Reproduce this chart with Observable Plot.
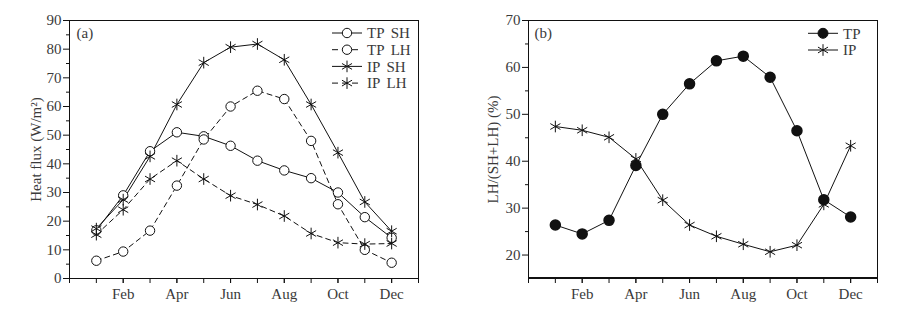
<!DOCTYPE html>
<html><head><meta charset="utf-8">
<script src="https://cdn.jsdelivr.net/npm/d3@7"></script>
<script src="https://cdn.jsdelivr.net/npm/@observablehq/plot@0.6"></script>
<style>
body{margin:0;background:#fff}
#wrap{display:flex;width:916px;height:310px;background:#fff}
</style>
</head><body><div id="wrap"></div><script>
// ---- data ----
const months = [1,2,3,4,5,6,7,8,9,10,11,12];
const tpSH = [16.8, 29.0, 44.4, 51.0, 49.6, 46.3, 41.1, 37.7, 35.0, 30.0, 21.4, 14.2];
const tpLH = [6.2, 9.4, 16.7, 32.4, 48.5, 60.0, 65.5, 62.6, 48.0, 25.9, 10.0, 5.5];
const ipSH = [17.4, 27.5, 42.6, 60.7, 75.3, 80.7, 81.8, 76.3, 60.7, 43.9, 26.7, 16.5];
const ipLH = [15.3, 24.0, 34.7, 41.1, 34.7, 28.9, 25.8, 21.8, 15.7, 12.5, 12.0, 12.2];
const tpRatio = [26.4, 24.5, 27.4, 39.1, 50.0, 56.5, 61.4, 62.4, 57.9, 46.5, 31.8, 28.1];
const ipRatio = [47.4, 46.6, 45.1, 40.5, 31.7, 26.4, 24.0, 22.3, 20.7, 22.1, 30.8, 43.3];
const monthTicks = [2,4,6,8,10,12];
const monthLabels = ["Feb","Apr","Jun","Aug","Oct","Dec"];
const xDomain = [0, 13];
const yDomainA = [0, 90];
const yTicksA = [0,10,20,30,40,50,60,70,80,90];
const yDomainB = [15, 70];
const yTicksB = [20,30,40,50,60,70];
const legendA = ["TP SH","TP LH","IP SH","IP LH"];
const legendB = ["TP","IP"];

const rows = months.map((m,i)=>({month:m, tpSH:tpSH[i], tpLH:tpLH[i], ipSH:ipSH[i], ipLH:ipLH[i], tpR:tpRatio[i], ipR:ipRatio[i]}));

const font = "'Liberation Serif','Times New Roman',serif";
const ink = "#111";
const txt = "#3a3a3a";
const style = {fontFamily: font, fontSize: "15px", background: "white", overflow: "visible", color: ink};

function xAxes() {
  return [
    Plot.axisX({ticks: d3.range(0, 14), tickSize: 5, text: null, label: null, stroke: ink}),
    Plot.axisX({ticks: monthTicks, tickSize: 5, tickPadding: 5, tickFormat: d => monthLabels[monthTicks.indexOf(d)], label: null, stroke: ink, fill: txt, fontSize: 15})
  ];
}

const left = Plot.plot({
  width: 458, height: 310,
  marginLeft: 69, marginRight: 40, marginTop: 20, marginBottom: 32,
  style,
  x: {domain: xDomain},
  y: {domain: yDomainA},
  marks: [
    ...xAxes(),
    Plot.axisY({ticks: d3.range(5, 90, 10), tickSize: 3, text: null, label: null, stroke: ink}),
    Plot.axisY({ticks: yTicksA, tickSize: 6, tickPadding: 2, stroke: ink, fill: txt, fontSize: 15,
      label: "Heat flux (W/m²)", labelAnchor: "center", labelArrow: "none", labelOffset: 39}),
    Plot.line(rows, {x: "month", y: "tpSH", stroke: ink, strokeWidth: 1}),
    Plot.line(rows, {x: "month", y: "tpLH", stroke: ink, strokeWidth: 1, strokeDasharray: "5,4"}),
    Plot.line(rows, {x: "month", y: "ipSH", stroke: ink, strokeWidth: 1}),
    Plot.line(rows, {x: "month", y: "ipLH", stroke: ink, strokeWidth: 1, strokeDasharray: "5,4"}),
    Plot.dot(rows, {x: "month", y: "tpSH", r: 4.7, fill: "white", stroke: ink, strokeWidth: 1}),
    Plot.dot(rows, {x: "month", y: "tpLH", r: 4.7, fill: "white", stroke: ink, strokeWidth: 1}),
    Plot.dot(rows, {x: "month", y: "ipSH", r: 5.5, symbol: "asterisk", stroke: ink, strokeWidth: 1}),
    Plot.dot(rows, {x: "month", y: "ipLH", r: 5.5, symbol: "asterisk", stroke: ink, strokeWidth: 1}),
    Plot.frame({stroke: ink}),
    Plot.text(["(a)"], {frameAnchor: "top-left", dx: 7, dy: 13, lineAnchor: "middle", fill: txt, fontSize: 15})
  ]
});

const right = Plot.plot({
  width: 458, height: 310,
  marginLeft: 70, marginRight: 39, marginTop: 20, marginBottom: 32,
  style,
  x: {domain: xDomain},
  y: {domain: yDomainB},
  marks: [
    ...xAxes(),
    Plot.axisY({ticks: d3.range(25, 70, 10), tickSize: 3, text: null, label: null, stroke: ink}),
    Plot.axisY({ticks: yTicksB, tickSize: 6, tickPadding: 2, stroke: ink, fill: txt, fontSize: 15,
      label: "LH/(SH+LH) (%)", labelAnchor: "center", labelArrow: "none", labelOffset: 41}),
    Plot.line(rows, {x: "month", y: "tpR", stroke: ink, strokeWidth: 1}),
    Plot.line(rows, {x: "month", y: "ipR", stroke: ink, strokeWidth: 1}),
    Plot.dot(rows, {x: "month", y: "tpR", r: 5, fill: ink, stroke: ink}),
    Plot.dot(rows, {x: "month", y: "ipR", r: 5.5, symbol: "asterisk", stroke: ink, strokeWidth: 1}),
    Plot.frame({stroke: ink, strokeWidth: 1}),
    Plot.text(["(b)"], {frameAnchor: "top-left", dx: 6, dy: 13, lineAnchor: "middle", fill: txt, fontSize: 15})
  ]
});

// thicker bottom axis line on panel (b), placed with the plot's own scales
{
  const sx = right.scale("x"), sy = right.scale("y");
  d3.select(right).append("line")
    .attr("x1", sx.apply(xDomain[0])).attr("x2", sx.apply(xDomain[1]))
    .attr("y1", sy.apply(yDomainB[0])).attr("y2", sy.apply(yDomainB[0]))
    .attr("stroke", ink).attr("stroke-width", 2);
}

function addLegend(svg, labels, kinds, x0, y0, dy) {
  const g = d3.select(svg).append("g").attr("font-family", font).attr("font-size", 15).attr("text-anchor", "start");
  labels.forEach((lab, i) => {
    const k = kinds[i];
    const y = y0 + i * dy;
    g.append("line").attr("x1", x0).attr("x2", x0 + 30).attr("y1", y).attr("y2", y)
      .attr("stroke", ink).attr("stroke-dasharray", k.dash ? "6,4" : null);
    const r = k.r;
    const sym = k.symbol === "asterisk" ? d3.symbolAsterisk : d3.symbolCircle;
    g.append("path").attr("transform", `translate(${x0 + 15},${y})`)
      .attr("d", d3.symbol(sym, Math.PI * r * r)())
      .attr("fill", k.symbol === "asterisk" ? "none" : k.fill)
      .attr("stroke", ink);
    g.append("text").attr("x", x0 + 35).attr("y", y).attr("dy", "0.35em")
      .attr("text-anchor", "start")
      .attr("fill", txt).style("word-spacing", "3px").text(lab);
  });
}

addLegend(left, legendA, [
  {symbol: "circle", fill: "white", r: 4.7, dash: false},
  {symbol: "circle", fill: "white", r: 4.7, dash: true},
  {symbol: "asterisk", r: 5.5, dash: false},
  {symbol: "asterisk", r: 5.5, dash: true}
], 332, 33, 16.7);

addLegend(right, legendB, [
  {symbol: "circle", fill: ink, r: 5, dash: false},
  {symbol: "asterisk", r: 5.5, dash: false}
], 350, 33.3, 16.7);

const wrap = document.getElementById("wrap");
wrap.appendChild(left);
wrap.appendChild(right);
</script></body></html>
